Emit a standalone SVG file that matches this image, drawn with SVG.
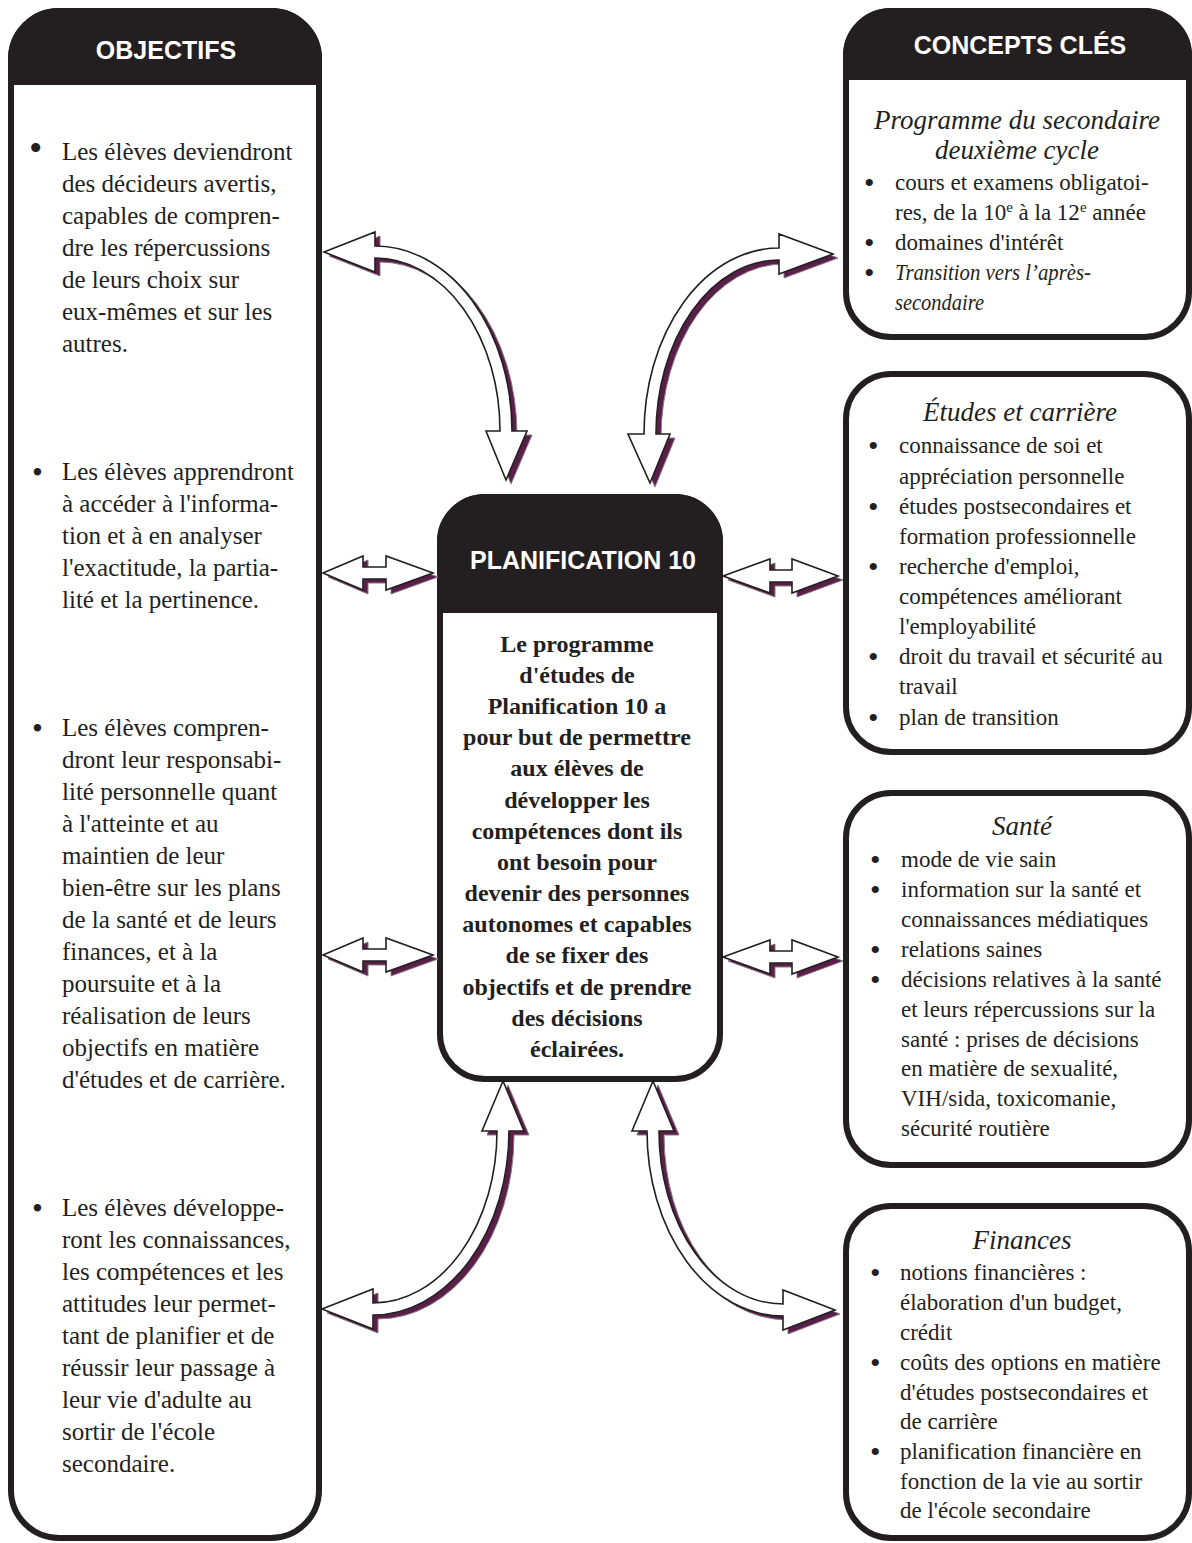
<svg xmlns="http://www.w3.org/2000/svg" width="1192" height="1543" viewBox="0 0 1192 1543">
<defs>
<style>
.box{fill:#ffffff;stroke:#231f20;stroke-width:6}
.hdr{fill:#231f20;stroke:#231f20;stroke-width:6}
.hd{font-family:"Liberation Sans",Arial,sans-serif;font-weight:bold;font-size:25px;fill:#ffffff;text-anchor:middle}
.obj{font-family:"Liberation Serif","Times New Roman",serif;font-size:25px;fill:#231f20}
.ctr{font-family:"Liberation Serif","Times New Roman",serif;font-size:24px;font-weight:bold;fill:#231f20;text-anchor:middle}
.kc{font-family:"Liberation Serif","Times New Roman",serif;font-size:23px;fill:#231f20}
.kt{font-family:"Liberation Serif","Times New Roman",serif;font-size:27px;font-style:italic;fill:#231f20;text-anchor:middle}
.it{font-style:italic}
.bl{font-size:31px}
.bk{font-size:30px}
.sh{fill:#5a1f48;stroke:#8a7a85;stroke-width:1}
.ar{fill:#ffffff;stroke:#231f20;stroke-width:1.6;stroke-linejoin:miter}
</style>
</defs>
<rect width="1192" height="1543" fill="#ffffff"/>

<g id="objectifs">
<rect class="box" x="11" y="11" width="308" height="1527" rx="48"/>
<path class="hdr" d="M11,82 V59 A48,48 0 0 1 59,11 H271 A48,48 0 0 1 319,59 V82 Z"/>
<text class="hd" x="166" y="59">OBJECTIFS</text>
<g class="obj">
<text x="29" y="161" font-size="38">•</text>
<text x="62" y="160">Les élèves deviendront</text>
<text x="62" y="192">des décideurs avertis,</text>
<text x="62" y="224">capables de compren-</text>
<text x="62" y="256">dre les répercussions</text>
<text x="62" y="288">de leurs choix sur</text>
<text x="62" y="320">eux-mêmes et sur les</text>
<text x="62" y="352">autres.</text>
<text class="bl" x="32" y="483">•</text>
<text x="62" y="480">Les élèves apprendront</text>
<text x="62" y="512">à accéder à l'informa-</text>
<text x="62" y="544">tion et à en analyser</text>
<text x="62" y="576">l'exactitude, la partia-</text>
<text x="62" y="608">lité et la pertinence.</text>
<text class="bl" x="32" y="739">•</text>
<text x="62" y="736">Les élèves compren-</text>
<text x="62" y="768">dront leur responsabi-</text>
<text x="62" y="800">lité personnelle quant</text>
<text x="62" y="832">à l'atteinte et au</text>
<text x="62" y="864">maintien de leur</text>
<text x="62" y="896">bien-être sur les plans</text>
<text x="62" y="928">de la santé et de leurs</text>
<text x="62" y="960">finances, et à la</text>
<text x="62" y="992">poursuite et à la</text>
<text x="62" y="1024">réalisation de leurs</text>
<text x="62" y="1056">objectifs en matière</text>
<text x="62" y="1088">d'études et de carrière.</text>
<text class="bl" x="32" y="1219">•</text>
<text x="62" y="1216">Les élèves développe-</text>
<text x="62" y="1248">ront les connaissances,</text>
<text x="62" y="1280">les compétences et les</text>
<text x="62" y="1312">attitudes leur permet-</text>
<text x="62" y="1344">tant de planifier et de</text>
<text x="62" y="1376">réussir leur passage à</text>
<text x="62" y="1408">leur vie d'adulte au</text>
<text x="62" y="1440">sortir de l'école</text>
<text x="62" y="1472">secondaire.</text>
</g>
</g>

<g id="planification">
<rect class="box" x="440" y="497" width="280" height="582" rx="45"/>
<path class="hdr" d="M440,610 V542 A45,45 0 0 1 485,497 H675 A45,45 0 0 1 720,542 V610 Z"/>
<text class="hd" x="583" y="569">PLANIFICATION 10</text>
<g class="ctr">
<text x="577" y="652">Le programme</text>
<text x="577" y="683">d'études de</text>
<text x="577" y="714">Planification 10 a</text>
<text x="577" y="745">pour but de permettre</text>
<text x="577" y="776">aux élèves de</text>
<text x="577" y="808">développer les</text>
<text x="577" y="839">compétences dont ils</text>
<text x="577" y="870">ont besoin pour</text>
<text x="577" y="901">devenir des personnes</text>
<text x="577" y="932">autonomes et capables</text>
<text x="577" y="963">de se fixer des</text>
<text x="577" y="995">objectifs et de prendre</text>
<text x="577" y="1026">des décisions</text>
<text x="577" y="1057">éclairées.</text>
</g>
</g>

<g id="concepts">
<rect class="box" x="846" y="11" width="343" height="326" rx="45"/>
<path class="hdr" d="M846,77 V56 A45,45 0 0 1 891,11 H1144 A45,45 0 0 1 1189,56 V77 Z"/>
<text class="hd" x="1020" y="54">CONCEPTS CLÉS</text>
<text class="kt" x="1017" y="129">Programme du secondaire</text>
<text class="kt" x="1017" y="159">deuxième cycle</text>
<g class="kc">
<text class="bk" x="864" y="193">•</text>
<text x="895" y="190">cours et examens obligatoi-</text>
<text x="895" y="220">res, de la 10<tspan dy="-8" font-size="15">e</tspan><tspan dy="8"> à la 12</tspan><tspan dy="-8" font-size="15">e</tspan><tspan dy="8"> année</tspan></text>
<text class="bk" x="864" y="253">•</text>
<text x="895" y="250">domaines d'intérêt</text>
<text class="bk" x="864" y="283">•</text>
<text class="it" x="895" y="280" textLength="196" lengthAdjust="spacingAndGlyphs">Transition vers l’après-</text>
<text class="it" x="895" y="310" textLength="89" lengthAdjust="spacingAndGlyphs">secondaire</text>
</g>
</g>

<g id="etudes-carriere">
<rect class="box" x="846" y="374" width="343" height="378" rx="45"/>
<text class="kt" x="1020" y="421">Études et carrière</text>
<g class="kc">
<text class="bk" x="868" y="456">•</text>
<text x="899" y="453">connaissance de soi et</text>
<text x="899" y="484">appréciation personnelle</text>
<text class="bk" x="868" y="517">•</text>
<text x="899" y="514">études postsecondaires et</text>
<text x="899" y="544">formation professionnelle</text>
<text class="bk" x="868" y="577">•</text>
<text x="899" y="574">recherche d'emploi,</text>
<text x="899" y="604">compétences améliorant</text>
<text x="899" y="634">l'employabilité</text>
<text class="bk" x="868" y="667">•</text>
<text x="899" y="664">droit du travail et sécurité au</text>
<text x="899" y="694">travail</text>
<text class="bk" x="868" y="728">•</text>
<text x="899" y="725">plan de transition</text>
</g>
</g>

<g id="sante">
<rect class="box" x="846" y="793" width="343" height="372" rx="45"/>
<text class="kt" x="1022" y="835">Santé</text>
<g class="kc">
<text class="bk" x="870" y="870">•</text>
<text x="901" y="867">mode de vie sain</text>
<text class="bk" x="870" y="900">•</text>
<text x="901" y="897">information sur la santé et</text>
<text x="901" y="927">connaissances médiatiques</text>
<text class="bk" x="870" y="960">•</text>
<text x="901" y="957">relations saines</text>
<text class="bk" x="870" y="990">•</text>
<text x="901" y="987">décisions relatives à la santé</text>
<text x="901" y="1017">et leurs répercussions sur la</text>
<text x="901" y="1047">santé : prises de décisions</text>
<text x="901" y="1076">en matière de sexualité,</text>
<text x="901" y="1106">VIH/sida, toxicomanie,</text>
<text x="901" y="1136">sécurité routière</text>
</g>
</g>

<g id="finances">
<rect class="box" x="846" y="1206" width="343" height="332" rx="45"/>
<text class="kt" x="1022" y="1249">Finances</text>
<g class="kc">
<text class="bk" x="870" y="1283">•</text>
<text x="900" y="1280">notions financières :</text>
<text x="900" y="1310">élaboration d'un budget,</text>
<text x="900" y="1340">crédit</text>
<text class="bk" x="870" y="1373">•</text>
<text x="900" y="1370">coûts des options en matière</text>
<text x="900" y="1400">d'études postsecondaires et</text>
<text x="900" y="1429">de carrière</text>
<text class="bk" x="870" y="1462">•</text>
<text x="900" y="1459">planification financière en</text>
<text x="900" y="1489">fonction de la vie au sortir</text>
<text x="900" y="1518">de l'école secondaire</text>
</g>
</g>

<g id="connectors">
<defs>
<path id="aTL" d="M324,252 L375,232 L375,246 A137,185 0 0 1 512,431 L527,431 L506,480 L486,431 L500,431 A125,173 0 0 0 375,258 L375,272 Z"/>
<path id="aTR" d="M833,254 L779,234 L779,248 A135,186 0 0 0 644,434 L628,434 L650,483 L670,434 L656,434 A123,174 0 0 1 779,260 L779,274 Z"/>
<path id="aBL" d="M503,1081 L524,1131 L509,1131 A136,184 0 0 1 373,1315 L373,1329 L322,1309 L373,1289 L373,1303 A124,172 0 0 0 497,1131 L482,1131 Z"/>
<path id="aBR" d="M653,1081 L674,1131 L659,1131 A124,173 0 0 0 783,1304 L783,1290 L835,1310 L783,1330 L783,1316 A136,185 0 0 1 647,1131 L632,1131 Z"/>
<path id="aML1" d="M323,573 L363,556 L363,567 L386,567 L386,556 L433,573 L386,590 L386,579 L363,579 L363,590 Z"/>
<path id="aMR1" d="M723,576 L770,559 L770,570 L792,570 L792,559 L838,576 L792,593 L792,582 L770,582 L770,593 Z"/>
<path id="aML2" d="M323,955 L363,938 L363,949 L386,949 L386,938 L433,955 L386,972 L386,961 L363,961 L363,972 Z"/>
<path id="aMR2" d="M723,957 L770,940 L770,951 L792,951 L792,940 L838,957 L792,974 L792,963 L770,963 L770,974 Z"/>
</defs>
<g transform="translate(5,4)">
<use href="#aTL" class="sh"/><use href="#aTR" class="sh"/><use href="#aBL" class="sh"/><use href="#aBR" class="sh"/>
<use href="#aML1" class="sh"/><use href="#aMR1" class="sh"/><use href="#aML2" class="sh"/><use href="#aMR2" class="sh"/>
</g>
<use href="#aTL" class="ar"/><use href="#aTR" class="ar"/><use href="#aBL" class="ar"/><use href="#aBR" class="ar"/>
<use href="#aML1" class="ar"/><use href="#aMR1" class="ar"/><use href="#aML2" class="ar"/><use href="#aMR2" class="ar"/>
</g>
</svg>
